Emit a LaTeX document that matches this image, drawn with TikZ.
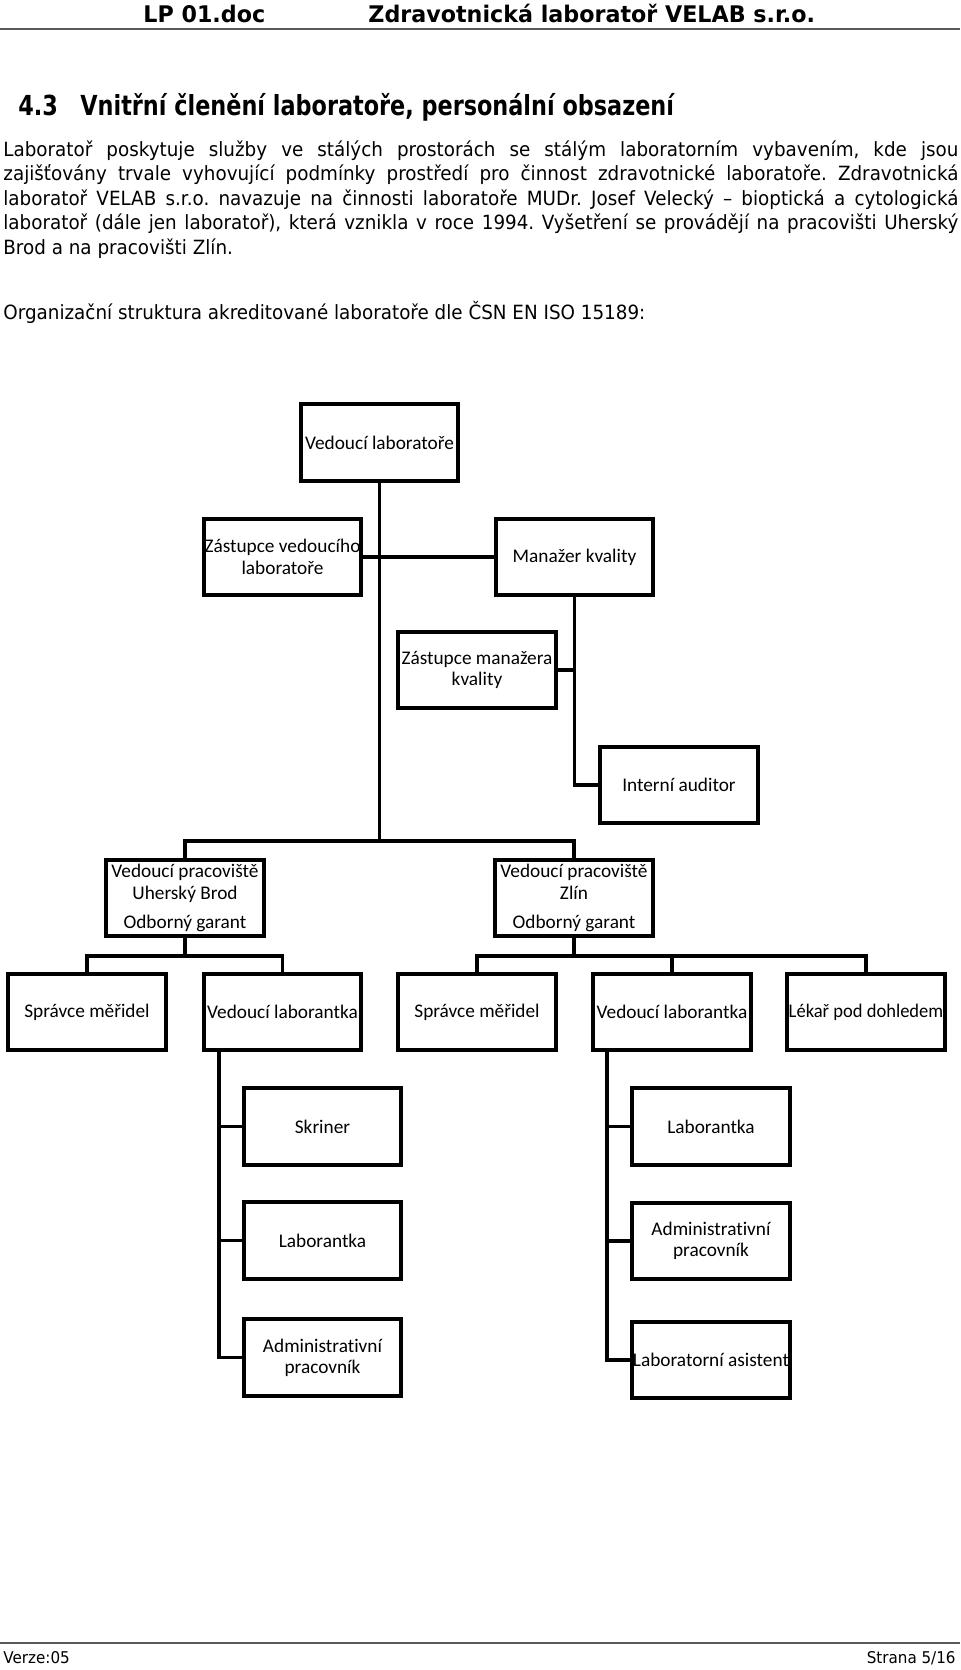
\documentclass[tikz,border=0pt]{standalone}
\usepackage{fontspec}
\setmainfont{Carlito}[Ligatures=NoCommon]
\newfontfamily\parafont[FakeStretch=0.935]{DejaVu Sans}
\newfontfamily\hdfont[FakeStretch=0.97]{DejaVu Sans Bold}
\newfontfamily\ttlfont[FakeStretch=0.81]{DejaVu Sans Bold}
\newcommand\boxfont{\fontsize{9.65}{10.65}\selectfont}
\newcommand\pfont{\parafont\fontsize{9.8}{12}\selectfont}
\newcommand\pline[1]{\makebox[477.5pt][s]{#1}}
\frenchspacing
\tikzset{
  box/.style={draw, line width=2pt, minimum width=78.7pt, minimum height=38.2pt,
              inner sep=0pt, align=center, font=\boxfont},
  conn/.style={line width=1.6pt, line cap=rect, line join=miter},
  ptext/.style={anchor=base west, inner sep=0pt, font=\pfont},
  rule/.style={draw=black!65, line width=1pt},
}
\begin{document}
\begin{tikzpicture}[x=0.5pt, y=-0.5pt]
\useasboundingbox (0,0) rectangle (960,1670);
% header
\node[anchor=base west, inner sep=0pt, font=\hdfont\fontsize{11.45}{13}\selectfont] (h1) at (143,22) {LP 01.doc};
\node[anchor=base west, inner sep=0pt, font=\hdfont\fontsize{11.45}{13}\selectfont] (h2) at (368,22) {Zdravotnická laboratoř VELAB s.r.o.};
\coordinate (hl1) at (0,29); \coordinate (hl2) at (960,29);
\draw[rule] (hl1) -- (hl2);
% title
\node[anchor=base west, inner sep=0pt, font=\ttlfont\fontsize{13.8}{16}\selectfont] (t1) at (18,115) {4.3};
\node[anchor=base west, inner sep=0pt, font=\ttlfont\fontsize{13.8}{16}\selectfont] (t2) at (80,115) {Vnitřní členění laboratoře, personální obsazení};
% paragraph
\node[ptext] (p1) at (3,156) {\pline{Laboratoř poskytuje služby ve stálých prostorách se stálým laboratorním vybavením, kde jsou}};
\node[ptext] (p2) at (3,180.5) {\pline{zajišťovány trvale vyhovující podmínky prostředí pro činnost zdravotnické laboratoře. Zdravotnická}};
\node[ptext] (p3) at (3,205) {\pline{laboratoř VELAB s.r.o. navazuje na činnosti laboratoře MUDr. Josef Velecký – bioptická a cytologická}};
\node[ptext] (p4) at (3,229.5) {\pline{laboratoř (dále jen laboratoř), která vznikla v roce 1994. Vyšetření se provádějí na pracovišti Uherský}};
\node[ptext] (p5) at (3,254) {Brod a na pracovišti Zlín.};
\node[ptext] (p6) at (3,319) {Organizační struktura akreditované laboratoře dle ČSN EN ISO 15189:};
% boxes
\node[box] (vl) at (379.5,442.5) {Vedoucí laboratoře};
\node[box] (zv) at (282.5,557) {Zástupce vedoucího\\laboratoře};
\node[box] (mk) at (574.5,557) {Manažer kvality};
\node[box] (zm) at (477,670) {Zástupce manažera\\kvality};
\node[box] (ia) at (679,785) {Interní auditor};
\node[box] (ub) at (185,898) {Vedoucí pracoviště\\Uherský Brod\\[4pt]Odborný garant};
\node[box] (zl) at (574,898) {Vedoucí pracoviště\\Zlín\\[4pt]Odborný garant};
\node[box] (sm1) at (87,1012) {Správce měřidel};
\node[box] (vlb1) at (282.5,1012) {Vedoucí laborantka};
\node[box] (sm2) at (477,1012) {Správce měřidel};
\node[box] (vlb2) at (672,1012) {Vedoucí laborantka};
\node[box] (lek) at (866,1012) {\scalebox{0.96}[1]{Lékař pod dohledem}};
\node[box] (sk) at (322.5,1126.5) {Skriner};
\node[box] (lab1) at (322.5,1240.5) {Laborantka};
\node[box] (adm1) at (322.5,1357.5) {Administrativní\\pracovník};
\node[box] (lab2) at (711,1126.5) {Laborantka};
\node[box] (adm2) at (711,1241) {Administrativní\\pracovník};
\node[box] (las) at (711,1360) {Laboratorní asistent};
% connectors
\coordinate (bar1) at (0,841);
\coordinate (bar2) at (0,956);
\coordinate (spL) at (219,0);
\coordinate (spR) at (607,0);
\draw[conn] (vl.south) -- (vl.south |- bar1);
\draw[conn] (zv.east) -- (mk.west);
\draw[conn] (mk.south) -- (mk.south |- ia.west) -- (ia.west);
\draw[conn] (zm.east) -- (zm.east -| mk.south);
\draw[conn] (ub.north) -- (ub.north |- bar1) -- (zl.north |- bar1) -- (zl.north);
\draw[conn] (ub.south) -- (ub.south |- bar2);
\draw[conn] (sm1.north) -- (sm1.north |- bar2) -- (vlb1.north |- bar2) -- (vlb1.north);
\draw[conn] (zl.south) -- (zl.south |- bar2);
\draw[conn] (sm2.north) -- (sm2.north |- bar2) -- (lek.north |- bar2) -- (lek.north);
\draw[conn] (vlb2.north) -- (vlb2.north |- bar2);
\draw[conn] (vlb1.south -| spL) -- (spL |- adm1.west) -- (adm1.west);
\draw[conn] (spL |- sk.west) -- (sk.west);
\draw[conn] (spL |- lab1.west) -- (lab1.west);
\draw[conn] (vlb2.south -| spR) -- (spR |- las.west) -- (las.west);
\draw[conn] (spR |- lab2.west) -- (lab2.west);
\draw[conn] (spR |- adm2.west) -- (adm2.west);
% footer
\coordinate (fl1) at (0,1643); \coordinate (fl2) at (960,1643);
\draw[rule] (fl1) -- (fl2);
\node[anchor=base west, inner sep=0pt, font=\parafont\fontsize{8.1}{10}\selectfont] (f1) at (3,1663) {Verze:05};
\node[anchor=base east, inner sep=0pt, font=\parafont\fontsize{8.1}{10}\selectfont] (f2) at (956,1663) {Strana 5/16};
\end{tikzpicture}
\end{document}
